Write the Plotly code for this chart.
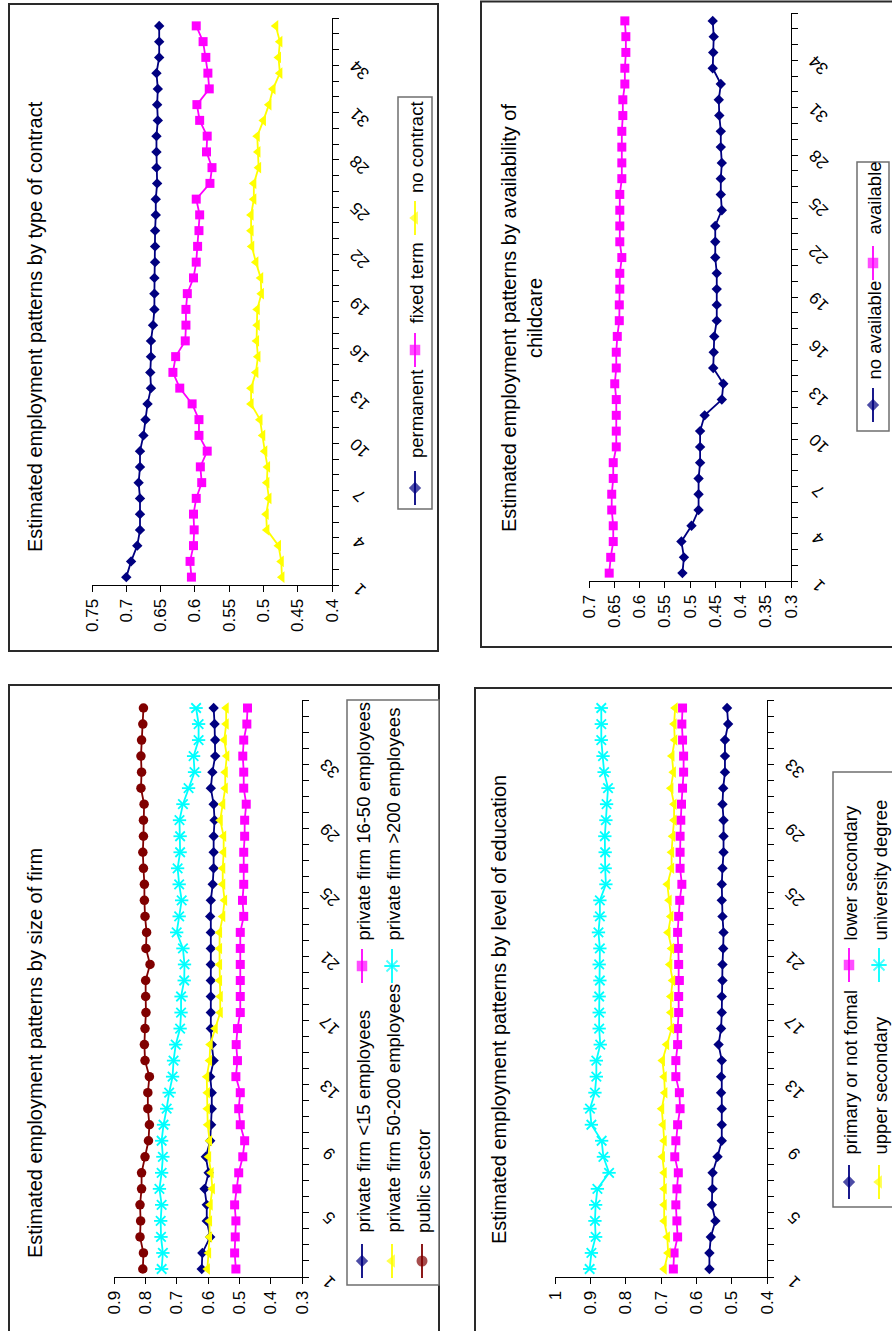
import plotly.graph_objects as go

W, H = 892, 1331
FONT = "Liberation Sans, Arial, sans-serif"

# ---------------- data ----------------
categories = list(range(1, 37))

contract_series = ["permanent", "fixed term", "no contract"]
contract_permanent = [0.700, 0.693, 0.684, 0.680, 0.680, 0.680, 0.682, 0.680, 0.680, 0.675, 0.672, 0.669,
                      0.664, 0.665, 0.664, 0.664, 0.661, 0.659, 0.659, 0.659, 0.658, 0.658, 0.658, 0.657,
                      0.657, 0.655, 0.656, 0.656, 0.656, 0.654, 0.655, 0.654, 0.656, 0.652, 0.652, 0.652]
contract_fixed = [0.605, 0.607, 0.602, 0.601, 0.602, 0.598, 0.590, 0.592, 0.582, 0.594, 0.594, 0.604,
                  0.622, 0.632, 0.628, 0.614, 0.613, 0.613, 0.611, 0.602, 0.598, 0.596, 0.594, 0.593,
                  0.598, 0.578, 0.575, 0.583, 0.582, 0.593, 0.597, 0.579, 0.581, 0.584, 0.588, 0.598]
contract_none = [0.473, 0.474, 0.478, 0.495, 0.496, 0.492, 0.495, 0.494, 0.498, 0.501, 0.505, 0.518,
                 0.518, 0.511, 0.508, 0.510, 0.509, 0.509, 0.503, 0.504, 0.511, 0.517, 0.518, 0.518,
                 0.514, 0.514, 0.507, 0.508, 0.509, 0.500, 0.492, 0.486, 0.476, 0.478, 0.476, 0.482]

childcare_series = ["no available", "available"]
childcare_no = [0.515, 0.512, 0.517, 0.497, 0.483, 0.483, 0.483, 0.480, 0.480, 0.480, 0.471, 0.437,
                0.434, 0.454, 0.453, 0.452, 0.447, 0.447, 0.447, 0.447, 0.450, 0.450, 0.450, 0.437,
                0.439, 0.439, 0.437, 0.439, 0.439, 0.442, 0.443, 0.439, 0.455, 0.454, 0.453, 0.455]
childcare_yes = [0.660, 0.657, 0.652, 0.652, 0.655, 0.655, 0.652, 0.652, 0.646, 0.646, 0.646, 0.646,
                 0.649, 0.646, 0.646, 0.644, 0.640, 0.640, 0.639, 0.639, 0.635, 0.639, 0.639, 0.639,
                 0.639, 0.635, 0.635, 0.635, 0.635, 0.633, 0.633, 0.629, 0.629, 0.627, 0.627, 0.629]

firm_series = ["private firm <15 employees", "private firm 16-50 employees",
               "private firm 50-200 employees", "private firm >200 employees", "public sector"]
firm_lt15 = [0.620, 0.618, 0.593, 0.604, 0.604, 0.611, 0.598, 0.607, 0.593, 0.590, 0.588, 0.588,
             0.593, 0.582, 0.588, 0.591, 0.591, 0.591, 0.591, 0.591, 0.591, 0.591, 0.593, 0.591,
             0.585, 0.582, 0.582, 0.582, 0.579, 0.582, 0.591, 0.586, 0.577, 0.577, 0.579, 0.582]
firm_16_50 = [0.511, 0.515, 0.513, 0.511, 0.515, 0.508, 0.502, 0.489, 0.483, 0.497, 0.502, 0.497,
              0.511, 0.506, 0.510, 0.506, 0.497, 0.497, 0.497, 0.497, 0.497, 0.497, 0.486, 0.490,
              0.486, 0.486, 0.486, 0.483, 0.483, 0.478, 0.486, 0.486, 0.489, 0.486, 0.476, 0.474]
firm_50_200 = [0.602, 0.598, 0.595, 0.595, 0.593, 0.586, 0.590, 0.598, 0.595, 0.601, 0.602, 0.602,
               0.604, 0.595, 0.593, 0.577, 0.561, 0.561, 0.563, 0.563, 0.563, 0.563, 0.553, 0.547,
               0.553, 0.553, 0.550, 0.550, 0.561, 0.553, 0.545, 0.545, 0.540, 0.548, 0.542, 0.542]
firm_gt200 = [0.748, 0.744, 0.750, 0.751, 0.748, 0.755, 0.748, 0.744, 0.748, 0.742, 0.732, 0.724,
              0.713, 0.710, 0.703, 0.689, 0.686, 0.686, 0.676, 0.675, 0.680, 0.700, 0.692, 0.684,
              0.692, 0.697, 0.689, 0.689, 0.691, 0.680, 0.662, 0.643, 0.646, 0.630, 0.630, 0.638]
firm_public = [0.808, 0.806, 0.817, 0.815, 0.817, 0.812, 0.812, 0.801, 0.790, 0.787, 0.792, 0.792,
               0.787, 0.801, 0.803, 0.801, 0.798, 0.799, 0.799, 0.785, 0.798, 0.796, 0.801, 0.803,
               0.803, 0.806, 0.808, 0.806, 0.806, 0.804, 0.814, 0.812, 0.814, 0.812, 0.808, 0.806]

edu_series = ["primary or not fomal", "lower secondary", "upper secondary", "university degree"]
edu_primary = [0.563, 0.563, 0.559, 0.546, 0.556, 0.554, 0.554, 0.540, 0.528, 0.528, 0.528, 0.530,
               0.530, 0.528, 0.537, 0.530, 0.528, 0.528, 0.526, 0.526, 0.524, 0.523, 0.526, 0.528,
               0.528, 0.526, 0.523, 0.523, 0.523, 0.526, 0.524, 0.519, 0.519, 0.519, 0.510, 0.513]
edu_lower = [0.665, 0.663, 0.653, 0.655, 0.658, 0.655, 0.651, 0.661, 0.658, 0.653, 0.646, 0.648,
             0.658, 0.658, 0.653, 0.653, 0.650, 0.650, 0.648, 0.650, 0.651, 0.653, 0.650, 0.647,
             0.641, 0.646, 0.646, 0.646, 0.644, 0.642, 0.639, 0.636, 0.636, 0.639, 0.641, 0.639]
edu_upper = [0.691, 0.680, 0.682, 0.691, 0.691, 0.691, 0.691, 0.696, 0.691, 0.694, 0.698, 0.689,
             0.691, 0.696, 0.684, 0.670, 0.672, 0.672, 0.667, 0.675, 0.670, 0.680, 0.672, 0.677,
             0.682, 0.670, 0.670, 0.667, 0.663, 0.663, 0.672, 0.665, 0.669, 0.661, 0.663, 0.660]
edu_univ = [0.902, 0.897, 0.885, 0.887, 0.885, 0.880, 0.847, 0.863, 0.868, 0.897, 0.901, 0.887,
            0.883, 0.883, 0.872, 0.875, 0.875, 0.875, 0.873, 0.875, 0.873, 0.877, 0.873, 0.873,
            0.856, 0.858, 0.858, 0.859, 0.856, 0.854, 0.850, 0.861, 0.864, 0.869, 0.869, 0.869]

titles = {
    "contract": "Estimated employment patterns by type of contract",
    "childcare": "Estimated employment patterns by availability of<br>childcare",
    "firm": "Estimated employment patterns by size of firm",
    "edu": "Estimated employment patterns by level of education",
}

contract_ticks = [0.75, 0.7, 0.65, 0.6, 0.55, 0.5, 0.45, 0.4]
childcare_ticks = [0.7, 0.65, 0.6, 0.55, 0.5, 0.45, 0.4, 0.35, 0.3]
firm_ticks = [0.9, 0.8, 0.7, 0.6, 0.5, 0.4, 0.3]
edu_ticks = [1.0, 0.9, 0.8, 0.7, 0.6, 0.5, 0.4]
cat_labels_3 = list(range(1, 37, 3))
cat_labels_4 = list(range(1, 37, 4))

# ---------------- styles ----------------
NAVY, MAG, YEL, CYAN, DRED = "#000080", "#FF00FF", "#FFFF00", "#00FFFF", "#800000"
LW = 1.8
STY = {
    "diamond": dict(color=NAVY, symbol="diamond", size=8),
    "square": dict(color=MAG, symbol="square", size=9),
    "tri": dict(color=YEL, symbol="triangle-left", size=10),
    "star": dict(color=CYAN, symbol="x-thin-open", size=9.5),
    "circle": dict(color=DRED, symbol="circle", size=9.5),
}

# panel layout in pixels: plot area left, right, top, bottom
panels = [
    dict(key="contract", ax=1, px=(92, 332, 18, 585), rng=(0.75, 0.4), ticks=contract_ticks,
         cats=cat_labels_3,
         series=[(contract_permanent, "diamond"), (contract_fixed, "square"), (contract_none, "tri")],
         names=contract_series, title_xy=(35, 327), frame=(9, 4, 438, 651),
         legbox=(398, 97, 432, 509),
         legitems=[(415, 488, 460), (415, 350, 326), (415, 218, 195)]),
    dict(key="childcare", ax=2, px=(589, 791, 13, 581), rng=(0.7, 0.3), ticks=childcare_ticks,
         cats=cat_labels_3,
         series=[(childcare_no, "diamond"), (childcare_yes, "square")],
         names=childcare_series, title_xy=(522, 318), frame=(481, 1.5, 905, 647),
         legbox=(857, 162, 889, 431),
         legitems=[(873, 405, 382), (873, 263, 237)]),
    dict(key="firm", ax=3, px=(114, 302, 700, 1277), rng=(0.9, 0.3), ticks=firm_ticks,
         cats=cat_labels_4,
         series=[(firm_lt15, "diamond"), (firm_16_50, "square"), (firm_50_200, "tri"),
                 (firm_gt200, "star"), (firm_public, "circle")],
         names=firm_series, title_xy=(35, 1053), frame=(9, 685, 439, 1345),
         legbox=(347, 700, 439, 1285),
         legitems=[(362, 1261, 1235), (362, 966, 943), (392, 1261, 1235), (392, 966, 943),
                   (422, 1261, 1235)]),
    dict(key="edu", ax=4, px=(555, 767, 700, 1277), rng=(1.0, 0.4), ticks=edu_ticks,
         cats=cat_labels_4,
         series=[(edu_primary, "diamond"), (edu_lower, "square"), (edu_upper, "tri"),
                 (edu_univ, "star")],
         names=edu_series, title_xy=(499, 1010), frame=(475, 688, 905, 1345),
         legbox=(833, 772, 905, 1207),
         legitems=[(849, 1182, 1157), (849, 965, 943), (879, 1182, 1157), (879, 965, 943)]),
]

fig = go.Figure()
layout = dict(
    template="none",
    width=W, height=H, margin=dict(l=0, r=0, t=0, b=0, pad=0), autosize=False,
    paper_bgcolor="white", plot_bgcolor="rgba(0,0,0,0)", showlegend=False,
    font=dict(family=FONT, color="black"),
)
shapes, annotations = [], []


def fmt(v):
    return f"{v:g}"


for p in panels:
    i = p["ax"]
    xl, xr, yt, yb = p["px"]
    suf = "" if i == 1 else str(i)
    xa, ya = "x" + suf, "y" + suf
    layout["xaxis" + suf] = dict(
        domain=[xl / W, xr / W], range=list(p["rng"]), anchor=ya, side="bottom",
        automargin=False,
        showgrid=False, zeroline=False, showline=True, linecolor="black", linewidth=1,
        ticks="outside", ticklen=6, tickcolor="black", tickwidth=1,
        tickmode="array", tickvals=p["ticks"], ticktext=[fmt(v) for v in p["ticks"]],
        tickangle=-90, tickfont=dict(size=17, family=FONT), fixedrange=True,
    )
    layout["yaxis" + suf] = dict(
        domain=[1 - yb / H, 1 - yt / H], range=[0.5, 36.5], anchor=xa, side="right",
        automargin=False,
        showgrid=False, zeroline=False, showline=True, linecolor="black", linewidth=1,
        ticks="", tickmode="array", tickvals=p["cats"], showticklabels=False,
        minor=dict(tickmode="linear", tick0=0.5, dtick=1, ticks="outside", ticklen=6,
                   tickcolor="black", tickwidth=1, showgrid=False),
        fixedrange=True,
    )
    # category labels, tied to the category axis
    for c in p["cats"]:
        annotations.append(dict(text=str(c), xref=xa + " domain", yref=ya, x=1, y=c,
                                xshift=28, yshift=-13, showarrow=False, textangle=-135,
                                xanchor="center", yanchor="middle",
                                font=dict(size=17, family=FONT)))
    for vals, sty in p["series"]:
        s = STY[sty]
        fig.add_trace(go.Scatter(
            x=vals, y=categories, xaxis=xa, yaxis=ya, mode="lines+markers",
            line=dict(color=s["color"], width=LW),
            marker=dict(symbol=s["symbol"], size=s["size"], color=s["color"],
                        line=dict(color=s["color"], width=LW if sty == "star" else 0)),
            cliponaxis=False, hoverinfo="skip"))
        if sty == "star":
            fig.add_trace(go.Scatter(
                x=vals, y=categories, xaxis=xa, yaxis=ya, mode="markers",
                marker=dict(symbol="line-ew-open", size=s["size"], color=s["color"],
                            line=dict(color=s["color"], width=LW)),
                cliponaxis=False, hoverinfo="skip"))

    # frame and legend box (pixel coordinates on helper axis x5/y5)
    fx0, fy0, fx1, fy1 = p["frame"]
    shapes.append(dict(type="rect", xref="x5", yref="y5", x0=fx0, y0=fy0, x1=fx1, y1=fy1,
                       line=dict(color="#2a2a2a", width=2), layer="below"))
    lx0, ly0, lx1, ly1 = p["legbox"]
    shapes.append(dict(type="rect", xref="x5", yref="y5", x0=lx0, y0=ly0, x1=lx1, y1=ly1,
                       line=dict(color="#6f6f6f", width=1.5), fillcolor="white", layer="below"))
    tx, ty = p["title_xy"]
    annotations.append(dict(text=titles[p["key"]], xref="x5", yref="y5", x=tx, y=ty,
                            showarrow=False, textangle=-90, xanchor="center", yanchor="middle",
                            font=dict(size=20, family=FONT)))
    for (cx, my, tb), (vals, sty), name in zip(p["legitems"], p["series"], p["names"]):
        s = STY[sty]
        fig.add_trace(go.Scatter(
            x=[cx, cx, cx], y=[my + 17, my, my - 17], xaxis="x5", yaxis="y5",
            mode="lines+markers", line=dict(color=s["color"], width=LW),
            marker=dict(symbol=s["symbol"], size=[0, s["size"] + 1.5, 0], color=s["color"],
                        line=dict(color=s["color"], width=LW if sty == "star" else 0)),
            cliponaxis=False, hoverinfo="skip"))
        if sty == "star":
            fig.add_trace(go.Scatter(
                x=[cx], y=[my], xaxis="x5", yaxis="y5", mode="markers",
                marker=dict(symbol="line-ew-open", size=s["size"] + 1.5, color=s["color"],
                            line=dict(color=s["color"], width=LW)),
                cliponaxis=False, hoverinfo="skip"))
        annotations.append(dict(text=name, xref="x5", yref="y5", x=cx + 1, y=tb,
                                showarrow=False, textangle=-90, xanchor="center",
                                yanchor="bottom", font=dict(size=18.5, family=FONT)))

layout["xaxis5"] = dict(domain=[0, 1], range=[0, W], visible=False, fixedrange=True,
                        anchor="y5", automargin=False)
layout["yaxis5"] = dict(domain=[0, 1], range=[H, 0], visible=False, fixedrange=True,
                        anchor="x5", automargin=False)
layout["shapes"] = shapes
layout["annotations"] = annotations
fig.update_layout(**layout)
fig.write_html(
    "out.html",
    config={"displayModeBar": False, "staticPlot": True},
    post_script="document.body.style.margin='0';document.body.style.overflow='hidden';",
)
